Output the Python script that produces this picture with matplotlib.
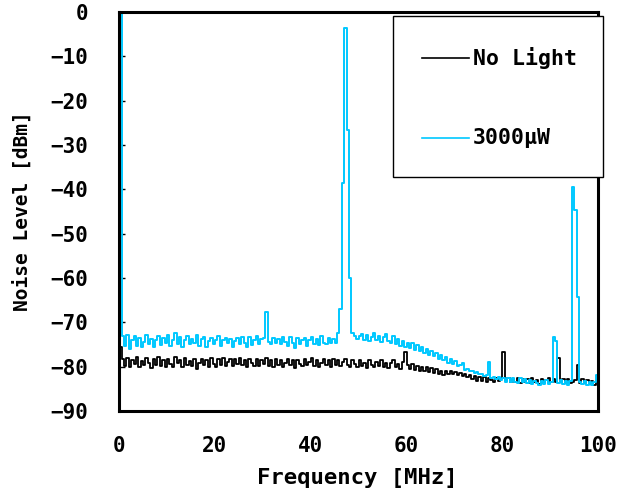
import numpy as np
import matplotlib
matplotlib.use("Agg")
import matplotlib.pyplot as plt
from matplotlib.lines import Line2D
from matplotlib.patches import Rectangle

# Spectrum analyser sweep, 0-100 MHz in 0.5 MHz bins
freq_start, freq_stop, freq_step = 0.0, 100.0, 0.5

# Noise level with no light on the detector [dBm]
no_light = [
    -75.5, -78.2, -79.8, -78.0, -80.1, -78.6, -79.4, -77.9, -80.0, -78.7,
    -79.7, -78.1, -79.3, -80.3, -78.4, -79.6, -77.9, -79.9, -78.6, -80.2,
    -78.3, -79.4, -80.1, -77.9, -79.2, -78.5, -80.2, -78.1, -79.6, -78.8,
    -79.9, -78.3, -80.5, -79.1, -78.2, -79.7, -78.6, -80.0, -78.0, -79.4,
    -80.1, -78.4, -79.6, -78.1, -79.9, -79.0, -78.3, -79.8, -78.2, -79.5,
    -78.0, -79.7, -78.6, -80.0, -78.3, -79.2, -79.8, -78.2, -79.9, -78.5,
    -79.5, -78.1, -79.8, -78.6, -80.2, -78.4, -79.6, -78.5, -80.0, -79.1,
    -78.2, -79.7, -78.6, -80.3, -78.5, -79.4, -79.9, -78.3, -79.6, -79.0,
    -78.1, -79.9, -78.5, -80.2, -79.3, -78.3, -79.7, -78.6, -80.0, -78.2,
    -79.6, -78.5, -79.9, -79.0, -78.3, -79.7, -80.2, -78.6, -79.5, -80.0,
    -78.5, -79.9, -79.2, -80.3, -78.6, -79.7, -80.1, -79.0, -79.8, -78.5,
    -80.0, -79.1, -80.4, -79.3, -78.6, -80.1, -79.4, -80.5, -79.0, -76.8,
    -79.6, -80.6, -79.4, -80.8, -79.9, -81.0, -80.0, -81.1, -80.2, -81.3,
    -80.4, -81.4, -80.6, -81.7, -80.9, -82.0, -81.0, -81.6, -81.1, -81.8,
    -81.3, -81.9, -81.5, -82.2, -81.7, -82.4, -82.0, -82.8, -82.2, -83.2,
    -82.3, -83.2, -82.4, -83.4, -82.6, -83.0, -83.5, -82.7, -83.3, -82.5,
    -76.7, -83.1, -82.7, -83.5, -82.8, -83.4, -82.6, -83.7, -82.9, -83.5,
    -82.8, -83.8, -82.7, -83.6, -83.0, -83.9, -82.9, -83.7, -83.1, -82.7,
    -83.5, -82.9, -83.6, -78.0, -83.6, -82.9, -83.8, -82.9, -83.8, -83.5,
    -83.0, -79.6, -83.7, -82.9, -83.8, -83.1, -84.0, -83.2, -84.1, -83.3,
    -83.9,
]

# Noise level with 3000 uW optical input [dBm]
light_3000uw = [
    1.0, -73.2, -75.3, -72.9, -76.0, -74.0, -73.1, -75.4, -73.6, -75.7,
    -74.4, -72.8, -75.0, -73.7, -75.6, -74.1, -73.2, -75.2, -73.5, -74.8,
    -72.9, -75.3, -74.0, -72.5, -75.0, -73.4, -75.5, -74.0, -73.1, -75.0,
    -73.7, -74.7, -73.0, -75.3, -73.9, -73.4, -75.7, -74.2, -73.5, -74.9,
    -74.0, -73.2, -75.3, -74.1, -73.6, -74.8, -73.8, -75.7, -74.3, -73.5,
    -74.9, -73.4, -74.6, -75.5, -73.3, -75.1, -74.0, -73.2, -75.0, -73.9,
    -73.5, -67.6, -74.4, -75.0, -73.6, -74.6, -73.8, -74.9, -73.4, -74.5,
    -75.3, -73.3, -74.8, -75.8, -73.6, -75.0, -74.0, -73.5, -75.3, -74.1,
    -73.4, -74.9, -73.8, -75.2, -73.2, -74.6, -75.0, -73.6, -74.7, -73.8,
    -74.8, -72.5, -67.0, -38.6, -3.6, -26.6, -60.0, -72.5, -73.1, -73.8,
    -73.2, -72.6, -74.1, -73.0, -74.3, -73.3, -72.5, -74.0, -73.1, -74.4,
    -73.3, -72.7, -74.2, -74.6, -73.1, -74.9, -73.8, -75.4, -74.2, -75.6,
    -74.6, -75.9, -74.8, -76.2, -75.2, -76.6, -75.6, -76.9, -76.0, -77.3,
    -76.4, -77.7, -76.9, -78.2, -77.3, -78.6, -77.8, -79.1, -78.2, -79.5,
    -78.7, -79.8, -79.6, -79.2, -80.7, -80.5, -81.1, -80.9, -81.4, -81.2,
    -81.8, -81.7, -82.2, -82.0, -79.0, -82.5, -82.4, -82.8, -82.3, -83.0,
    -82.6, -83.4, -82.5, -83.6, -82.7, -83.4, -83.7, -82.7, -83.5, -82.9,
    -83.8, -83.0, -84.0, -83.2, -83.7, -84.1, -83.2, -83.9, -83.1, -84.0,
    -83.4, -73.3, -74.2, -83.8, -83.0, -83.9, -83.2, -84.1, -83.3, -39.5,
    -44.7, -64.3, -83.4, -84.0, -83.2, -84.2, -83.5, -84.1, -83.4, -82.0,
    -82.0,
]

series_labels = ["No Light", "3000\u03bcW"]
series_colors = ["#000000", "#00C8FF"]

x_ticks = [0, 20, 40, 60, 80, 100]
y_ticks = [0, -10, -20, -30, -40, -50, -60, -70, -80, -90]

freq = np.arange(freq_start, freq_stop + freq_step / 2, freq_step)

plt.rcParams["font.family"] = "DejaVu Sans Mono"
plt.rcParams["font.weight"] = "bold"

fig = plt.figure(figsize=(6.27, 4.95), dpi=100)
ax = fig.add_axes([0.190, 0.170, 0.764, 0.806])

for values, color, lw in zip([no_light, light_3000uw], series_colors, [1.3, 1.4]):
    ax.plot(freq, values, color=color, lw=lw, drawstyle="steps-post")

ax.set_xlim(0, 100)
ax.set_ylim(-90, 0)
ax.set_xticks(x_ticks)
ax.set_yticks(y_ticks)
ax.tick_params(axis="y", direction="in", length=4, width=1, pad=22, labelsize=15)
ax.tick_params(axis="x", length=0, pad=18, labelsize=15)
for spine in ax.spines.values():
    spine.set_linewidth(2.2)

ax.set_xlabel("Frequency [MHz]", fontsize=16, fontweight="bold")
ax.xaxis.set_label_coords(0.497, -0.168)
ax.xaxis.label.set_va("center")
ax.set_ylabel("Noise Level [dBm]", fontsize=14, fontweight="bold")
ax.yaxis.set_label_coords(-0.202, 0.5)
ax.yaxis.label.set_va("center")

# Boxed legend drawn in figure pixels, sitting over the top-right corner
W, H = 627, 495
def px(x, y):
    return x / W, 1 - y / H

x0, y0 = px(393, 177)
x1, y1 = px(603, 16)
fig.add_artist(Rectangle((x0, y0), x1 - x0, y1 - y0, transform=fig.transFigure,
                         facecolor="white", edgecolor="black", lw=1.0, zorder=5))
for (ly, label, color) in zip([58, 138], series_labels, series_colors):
    lx0, lyf = px(422, ly)
    lx1, _ = px(469, ly)
    fig.add_artist(Line2D([lx0, lx1], [lyf, lyf], transform=fig.transFigure,
                          color=color, lw=1.2, zorder=6))
    tx, _ = px(473, ly)
    fig.text(tx, lyf, label, fontsize=15.5, fontweight="bold", ha="left", va="center",
             zorder=6)

fig.savefig("out.png", dpi=100)
